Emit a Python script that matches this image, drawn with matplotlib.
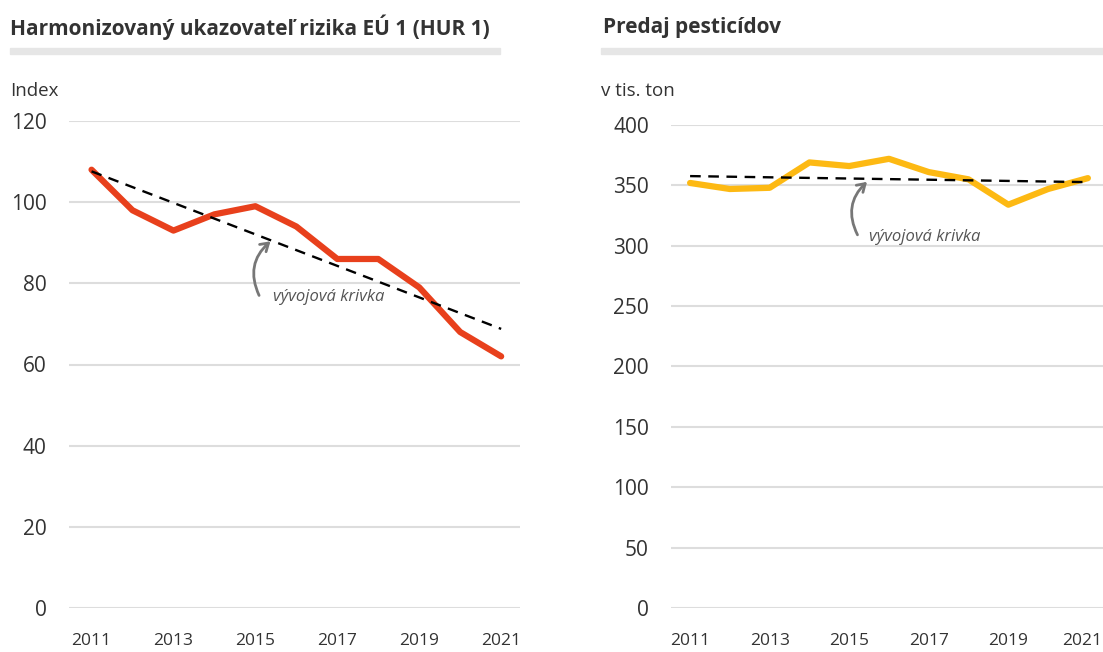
import numpy as np
import matplotlib.pyplot as plt
from matplotlib.transforms import ScaledTranslation

plt.rcParams['font.family'] = ['Open Sans', 'DejaVu Sans']

years = list(range(2011, 2022))
hur1 = [108, 98, 93, 97, 99, 94, 86, 86, 79, 68, 62]
predaj = [352, 347, 348, 369, 366, 372, 361, 355, 334, 347, 356]
year_ticks = [2011, 2013, 2015, 2017, 2019, 2021]
left_yticks = [0, 20, 40, 60, 80, 100, 120]
right_yticks = [0, 50, 100, 150, 200, 250, 300, 350, 400]

W, H = 1103, 652
fig = plt.figure(figsize=(W / 100, H / 100), dpi=100)
TXT = '#333333'
GRID = '#dddddd'


def px_axes(x0, x1, ytop, ybot):
    return fig.add_axes([x0 / W, (H - ybot) / H, (x1 - x0) / W, (ybot - ytop) / H])


def style(ax, yticks, xlim):
    ax.set_xlim(*xlim)
    ax.set_ylim(yticks[0], yticks[-1])
    ax.set_yticks(yticks)
    ax.set_xticks(year_ticks)
    for s in ax.spines.values():
        s.set_visible(False)
    ax.grid(axis='y', color=GRID, lw=1.5)
    ax.set_axisbelow(True)
    ax.tick_params(axis='y', length=0, pad=16, labelsize=15, labelcolor=TXT)
    ax.tick_params(axis='x', length=0, pad=18, labelsize=12.5, labelcolor=TXT)


def trend(ax, y):
    x = np.array(years)
    k, q = np.polyfit(x - x[0], y, 1)
    ax.plot(x, k * (x - x[0]) + q, color='black', lw=1.7, ls=(0, (4.5, 3.2)),
            zorder=4, clip_on=False)


def note(ax, text_xy, tail, head):
    ax.annotate('', xy=head, xytext=tail,
                arrowprops=dict(arrowstyle='->,head_length=0.55,head_width=0.35',
                                color='#777777', lw=2,
                                connectionstyle='arc3,rad=-0.4'), zorder=5)
    ax.text(*text_xy, 'vývojová krivka', style='italic', color='#555555',
            fontsize=12, ha='left', va='center')


# left panel
ax1 = px_axes(69, 520, 121, 608)
style(ax1, left_yticks, (2010.45, 2021.46))
ax1.plot(years, hur1, color='#E8401C', lw=4.5, solid_capstyle='round',
         solid_joinstyle='round', zorder=3, clip_on=False)
trend(ax1, hur1)
note(ax1, (2015.42, 76.6), (2015.12, 76.4), (2015.42, 90.8))

# right panel
ax2 = px_axes(671, 1103, 125, 608)
style(ax2, right_yticks, (2010.52, 2021.38))
ax2.plot(years, predaj, color='#FDB913', lw=4.5, solid_capstyle='round',
         solid_joinstyle='round', zorder=3, clip_on=False)
trend(ax2, predaj)
note(ax2, (2015.5, 307), (2015.24, 307), (2015.5, 354.5))
# keep the last year label inside the figure edge
last = ax2.get_xticklabels()[-1]
last.set_transform(last.get_transform() + ScaledTranslation(-6 / 100, 0, fig.dpi_scale_trans))

# titles, rules and units
fig.text(10 / W, 1 - 27 / H, 'Harmonizovaný ukazovateľ rizika EÚ 1 (HUR 1)',
         fontsize=15, fontweight='bold', color=TXT, ha='left', va='center')
fig.text(603 / W, 1 - 27 / H, 'Predaj pesticídov',
         fontsize=15, fontweight='bold', color=TXT, ha='left', va='center')
fig.patches.append(plt.Rectangle((10 / W, 1 - 54 / H), 490 / W, 6 / H,
                                 transform=fig.transFigure, color='#e6e6e6'))
fig.patches.append(plt.Rectangle((601 / W, 1 - 54 / H), 502 / W, 6 / H,
                                 transform=fig.transFigure, color='#e6e6e6'))
fig.text(10 / W, 1 - 91 / H, 'Index', fontsize=13.5, color=TXT, ha='left', va='center')
fig.text(601 / W, 1 - 91 / H, 'v tis. ton', fontsize=13.5, color=TXT, ha='left', va='center')

fig.savefig('out.png', dpi=100)
